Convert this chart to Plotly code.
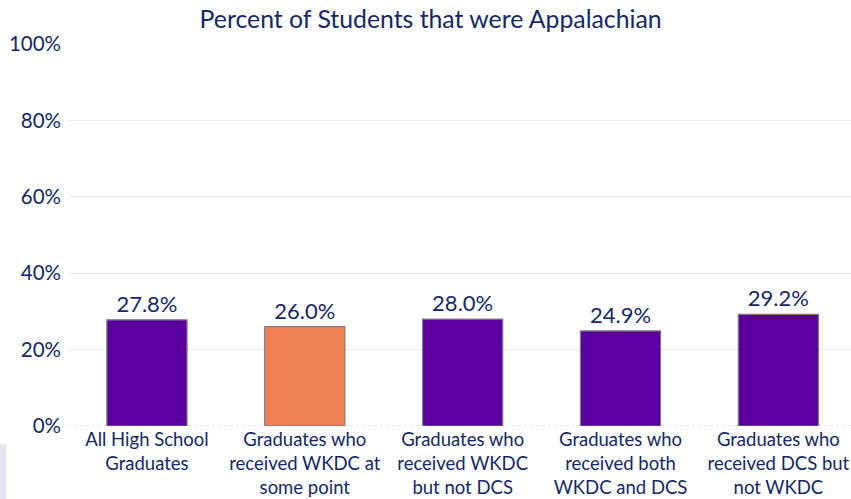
import plotly.graph_objects as go

categories = [
    "All High School<br>Graduates",
    "Graduates who<br>received WKDC at<br>some point",
    "Graduates who<br>received WKDC<br>but not DCS",
    "Graduates who<br>received both<br>WKDC and DCS",
    "Graduates who<br>received DCS but<br>not WKDC",
]
values = [27.8, 26.0, 28.0, 24.9, 29.2]
colors = ["#5B00A0", "#EF8050", "#5B00A0", "#5B00A0", "#5B00A0"]
tick_vals = [0, 20, 40, 60, 80, 100]
tick_text = ["0%", "20%", "40%", "60%", "80%", "100%"]

navy = "#14286B"
font_family = "Lato, 'Noto Sans', sans-serif"

fig = go.Figure()
fig.add_trace(go.Bar(
    x=list(range(len(categories))),
    y=values,
    marker=dict(color=colors, line=dict(color="#7F7F7F", width=1.2)),
    width=0.508,
    text=[f"{v:.1f}%" for v in values],
    textposition="outside",
    textfont=dict(size=22, color=navy, family=font_family),
    cliponaxis=False,
    hoverinfo="skip",
))

fig.update_layout(
    width=851, height=499,
    paper_bgcolor="white", plot_bgcolor="white",
    margin=dict(l=68, r=0, t=44, b=73),
    title=dict(text="Percent of Students that were Appalachian", x=0.506, xanchor="center",
               y=0.962, yanchor="middle",
               font=dict(size=24.8, color=navy, family=font_family)),
    showlegend=False,
)
fig.update_xaxes(
    tickvals=list(range(len(categories))), ticktext=categories,
    range=[-0.5, 4.46], showgrid=False, showline=False, zeroline=False,
    tickfont=dict(size=18.5, color=navy, family=font_family),
    automargin=False, ticklabeloverflow="allow",
)
fig.update_yaxes(
    range=[0, 100], tickvals=tick_vals, ticktext=tick_text,
    showgrid=True, gridcolor="#EBEBEB", gridwidth=1, zeroline=False,
    tickfont=dict(size=20.5, color=navy, family=font_family),
    ticks="", ticklabelstandoff=6, automargin=False,
)
# dashed baseline
fig.add_shape(type="line", xref="paper", yref="y", x0=0, x1=1, y0=0, y1=0,
              line=dict(color="#C8C8C8", width=1, dash="dot"), layer="below")
# light side decoration
fig.add_shape(type="rect", xref="paper", yref="paper", x0=-68/783, x1=-62/783,
              y0=-73/382, y1=-18/382, fillcolor="#E4E4F0", line=dict(width=0))

fig.write_html("out.html", config={"displayModeBar": False},
               post_script="document.body.style.margin='0';document.body.style.overflow='hidden';")
